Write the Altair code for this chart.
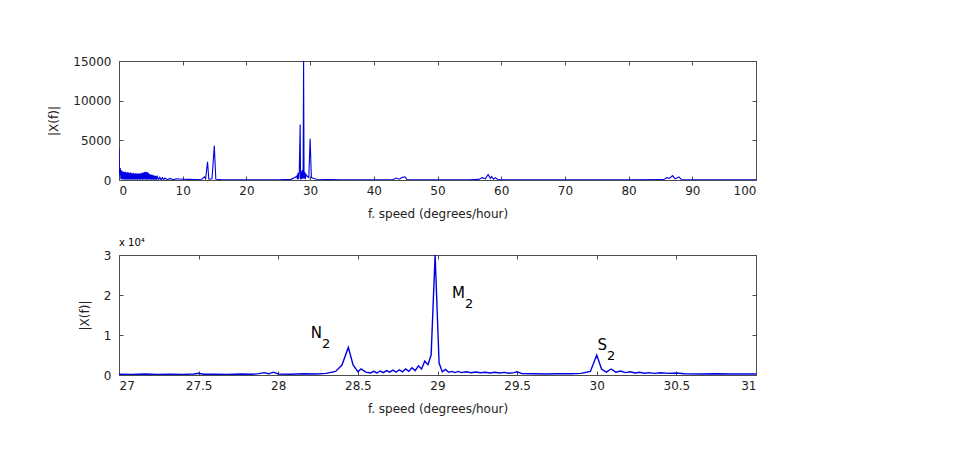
import altair as alt
import pandas as pd

# ---------------- data ----------------
top_speed = [0.0, 0.05, 0.1, 0.2, 0.3, 0.4, 0.5, 0.6, 0.7, 0.8, 0.9, 1.0, 1.1, 1.2, 1.3,
             1.4, 1.5, 1.6, 1.7, 1.8, 1.9, 2.0, 2.1, 2.2, 2.3, 2.4, 2.5, 2.6, 2.7, 2.8,
             2.9, 3.0, 3.1, 3.2, 3.3, 3.4, 3.5, 3.6, 3.7, 3.8, 3.9, 4.0, 4.1, 4.2, 4.3,
             4.4, 4.5, 4.6, 4.7, 4.8, 4.9, 5.0, 5.1, 5.2, 5.3, 5.4, 5.5, 5.6, 5.7, 5.8,
             5.9, 6.0, 6.2, 6.4, 6.6, 6.8, 7.0, 7.2, 7.6, 8.0, 8.5, 9.0, 10.0, 11.0, 12.0,
             13.0, 13.4, 13.6, 13.9, 14.1, 14.6, 14.96, 15.2, 16.0, 18.0, 20.0, 22.0, 25.0,
             27.0, 27.6, 27.9, 28.0, 28.1, 28.2, 28.3, 28.44, 28.5, 28.6, 28.7, 28.8,
             28.9, 28.98, 29.05, 29.15, 29.25, 29.35, 29.5, 29.8, 30.0, 30.2, 30.6, 31.0,
             33.0, 35.0, 40.0, 43.0, 43.5, 44.0, 44.4, 44.9, 45.2, 47.0, 55.0, 56.5, 57.0,
             57.5, 57.95, 58.3, 58.5, 58.8, 59.1, 59.5, 62.0, 70.0, 80.0, 85.5, 86.0, 86.4,
             86.9, 87.3, 87.9, 88.3, 92.0, 100.0]
top_amp = [4000, 1500, 600, 1500, 100, 1200, 80, 1100, 60, 1000, 50, 1050, 60, 950, 50,
           1000, 60, 900, 50, 950, 60, 850, 50, 900, 60, 800, 50, 850, 60, 800,
           50, 850, 60, 800, 50, 850, 60, 900, 50, 950, 60, 1000, 60, 1050, 50,
           1000, 60, 900, 50, 750, 60, 700, 50, 650, 40, 600, 40, 550, 40, 500,
           30, 450, 30, 350, 30, 300, 30, 250, 30, 200, 20, 150, 100, 80, 60,
           100, 400, 150, 2300, 100, 150, 4300, 100, 60, 40, 30, 30, 40,
           80, 300, 500, 100, 900, 100, 1000, 7000, 100, 1100, 100, 1300,
           200, 15000, 200, 1000, 100, 700, 500, 300, 5200, 300, 200, 100,
           60, 40, 30, 40, 250, 100, 300, 400, 50, 30, 30, 80, 300,
           150, 700, 200, 450, 100, 300, 40, 30, 20, 20, 50, 300, 200,
           550, 150, 400, 50, 20, 20]

bot_speed = [27.00, 27.08, 27.16, 27.24, 27.32, 27.40, 27.47, 27.50, 27.53, 27.60, 27.68,
             27.76, 27.84, 27.88, 27.91, 27.94, 27.97, 28.00, 28.08, 28.16, 28.24, 28.30,
             28.36, 28.40, 28.44, 28.47, 28.50, 28.52, 28.55, 28.58, 28.60, 28.62, 28.64,
             28.66, 28.68, 28.70, 28.72, 28.74, 28.76, 28.78, 28.80, 28.82, 28.84, 28.86,
             28.88, 28.90, 28.92, 28.94, 28.96, 28.985, 29.01, 29.03, 29.05, 29.07, 29.09,
             29.11, 29.13, 29.15, 29.18, 29.21, 29.24, 29.27, 29.30, 29.33, 29.36, 29.39,
             29.42, 29.45, 29.48, 29.50, 29.53, 29.60, 29.68, 29.76, 29.84, 29.90, 29.96,
             30.00, 30.03, 30.06, 30.09, 30.12, 30.15, 30.18, 30.21, 30.24, 30.27, 30.30,
             30.33, 30.36, 30.40, 30.45, 30.50, 30.55, 30.65, 30.75, 30.85, 31.00]
bot_amp = [200, 150, 250, 150, 200, 150, 250, 450, 200, 200, 150,
           250, 200, 350, 600, 300, 700, 250, 200, 300, 250, 400,
           900, 2500, 6900, 2500, 800, 1500, 700, 500, 900, 500, 1000,
           600, 1100, 700, 1200, 700, 1300, 800, 1500, 900, 1800, 1100,
           2300, 1500, 3500, 2600, 5000, 30000, 3000, 800, 1400, 700, 900,
           600, 900, 600, 800, 550, 750, 550, 700, 500, 700, 500,
           650, 450, 600, 800, 350, 300, 250, 300, 300, 400, 900,
           5000, 1500, 700, 1500, 700, 1000, 600, 800, 500, 700, 450,
           600, 400, 550, 400, 500, 300, 250, 300, 250, 250]

top_xticks = [0, 10, 20, 30, 40, 50, 60, 70, 80, 90, 100]
top_yticks = [0, 5000, 10000, 15000]
bot_xticks = [27, 27.5, 28, 28.5, 29, 29.5, 30, 30.5, 31]
bot_yticks = [0, 10000, 20000, 30000]

peak_letter = ["N", "M", "S"]
peak_sub = ["2", "2", "2"]
peak_x = [28.275, 29.173, 30.064]
peak_y = [9250, 19250, 6250]

exp_label = ["x 10\u2074"]
exp_x = [27]
exp_y = [30000]

# ---------------- styling ----------------
FONT = "DejaVu Sans"
LINE = "#0000e0"
BOX = "#4d4d4d"
X_TITLE = "f. speed (degrees/hour)"
Y_TITLE = "|X(f)|"
W = 637

top_df = pd.DataFrame({"f": top_speed, "a": top_amp})
bot_df = pd.DataFrame({"f": bot_speed, "a": bot_amp})
ann_df = pd.DataFrame({"x": peak_x, "y": peak_y, "name": peak_letter, "sub": peak_sub})
exp_df = pd.DataFrame({"x": exp_x, "y": exp_y, "t": exp_label})


def panel(df, xdom, ydom, xticks, yticks, height, xfmt, ylabel_expr, stroke_w,
          extra_layers_fn=None):
    xs = alt.Scale(domain=xdom, nice=False, zero=False)
    ys = alt.Scale(domain=ydom, nice=False, zero=False)
    y_axis_kwargs = dict(values=yticks, title=Y_TITLE, orient="left", offset=-4, tickSize=4,
                         domain=False, labelPadding=8, titlePadding=12, grid=False)
    if ylabel_expr:
        y_axis_kwargs["labelExpr"] = ylabel_expr
    else:
        y_axis_kwargs["format"] = "d"
    main = alt.Chart(df).mark_line(color=LINE, strokeWidth=stroke_w, clip=True).encode(
        x=alt.X("f:Q", scale=xs,
                axis=alt.Axis(values=xticks, title=X_TITLE, orient="bottom", offset=-4,
                              tickSize=4, domain=False, labelPadding=5,
                              titlePadding=12, format=xfmt, grid=False)),
        y=alt.Y("a:Q", scale=ys, axis=alt.Axis(**y_axis_kwargs)),
    )
    frame = alt.Chart(df).mark_line(opacity=0).encode(
        x=alt.X("f:Q", scale=xs,
                axis=alt.Axis(values=xticks, orient="top", labels=False, title=None,
                              offset=-4, tickSize=4, domain=False, grid=False)),
        y=alt.Y("a:Q", scale=ys,
                axis=alt.Axis(values=yticks, orient="right", labels=False, title=None,
                              offset=-4, tickSize=4, domain=False, grid=False)),
    )
    layers = [main, frame]
    if extra_layers_fn is not None:
        layers += extra_layers_fn(xs, ys)
    return alt.layer(*layers).resolve_axis(x="independent", y="independent").properties(
        width=W, height=height)


def bottom_extras(xs, ys):
    letters = alt.Chart(ann_df).mark_text(font=FONT, fontSize=15, align="right",
                                          baseline="alphabetic", color="black").encode(
        x=alt.X("x:Q", scale=xs, axis=None), y=alt.Y("y:Q", scale=ys, axis=None),
        text="name:N")
    subs = alt.Chart(ann_df).mark_text(font=FONT, fontSize=13, align="left",
                                       baseline="alphabetic", dy=10, color="black").encode(
        x=alt.X("x:Q", scale=xs, axis=None), y=alt.Y("y:Q", scale=ys, axis=None),
        text="sub:N")
    expo = alt.Chart(exp_df).mark_text(font=FONT, fontSize=10, align="left",
                                       baseline="alphabetic", dy=-9, color="black").encode(
        x=alt.X("x:Q", scale=xs, axis=None), y=alt.Y("y:Q", scale=ys, axis=None),
        text="t:N")
    return [letters, subs, expo]


top = panel(top_df, [0, 100], [0, 15000], top_xticks, top_yticks, 119, "d", None, 1.1)
bottom = panel(bot_df, [27, 31], [0, 30000], bot_xticks, bot_yticks, 120, "~g",
               "datum.value / 10000", 1.4, bottom_extras)

chart = alt.vconcat(top, bottom, spacing=17).properties(
    padding={"left": 39, "top": 46, "right": 5, "bottom": 5},
    background="white",
).configure_view(
    stroke=BOX, strokeWidth=1
).configure_axis(
    labelFont=FONT, titleFont=FONT, labelFontSize=12, titleFontSize=12,
    labelColor="#222222", titleColor="#222222", titleFontWeight="normal",
    tickColor=BOX, tickWidth=1
)

chart.save("out.html", embed_options={"renderer": "svg", "actions": False})
